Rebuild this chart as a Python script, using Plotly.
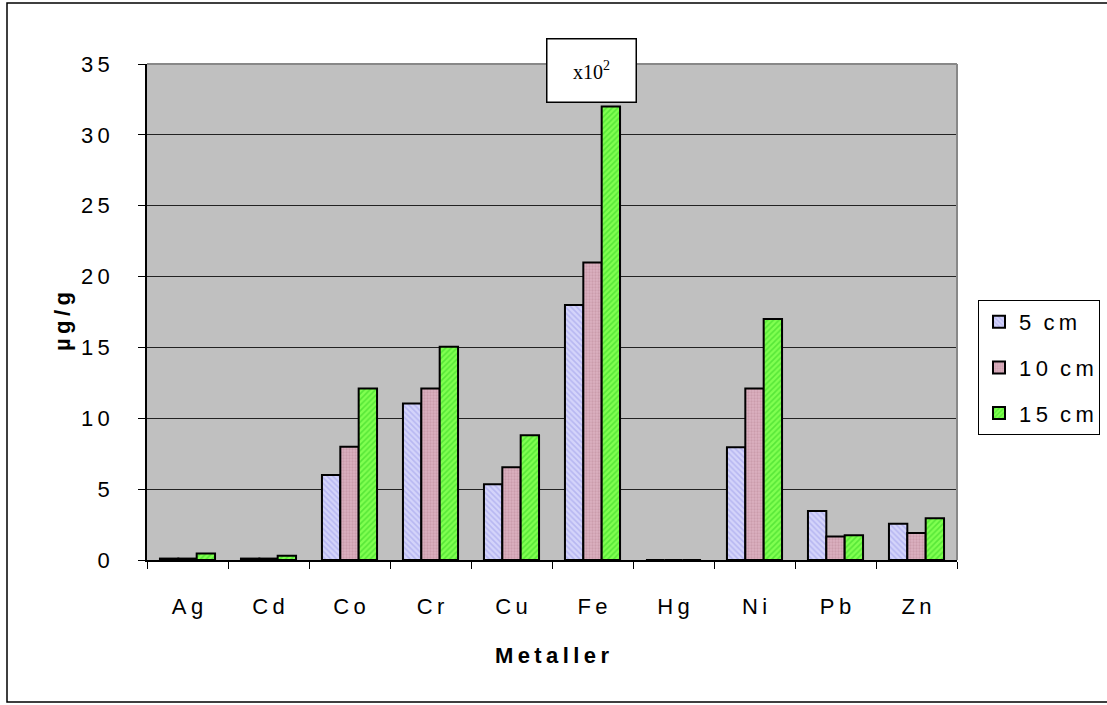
import plotly.graph_objects as go

metals = ["Ag", "Cd", "Co", "Cr", "Cu", "Fe", "Hg", "Ni", "Pb", "Zn"]
depth_5cm = [0.1, 0.1, 6.0, 11.05, 5.35, 18.0, 0.0, 7.95, 3.45, 2.55]
depth_10cm = [0.1, 0.1, 8.0, 12.1, 6.55, 21.0, 0.0, 12.1, 1.65, 1.9]
depth_15cm = [0.45, 0.3, 12.1, 15.05, 8.8, 32.0, 0.0, 17.0, 1.75, 2.95]
series_names = ["5 cm", "10 cm", "15 cm"]
y_ticks = [0, 5, 10, 15, 20, 25, 30, 35]

# plot area in pixels
W, H = 1107, 705
L, R, T, B = 147, 957, 64, 560


def px_x(p):
    return (p - L) / (R - L)


def px_y(p):
    return (B - p) / (B - T)


def spaced(s):
    # widely tracked lettering
    return "\u2009".join(s)


styles = [
    dict(bg="#d4d4fa", fg="#9a9ae8", shape="\\", size=4, solidity=0.4),
    dict(bg="#dcb0c0", fg="#b88898", shape=".", size=3, solidity=0.45),
    dict(bg="#80ff50", fg="#30d020", shape="/", size=4, solidity=0.4),
]

fig = go.Figure()
for name, vals, st in zip(series_names, [depth_5cm, depth_10cm, depth_15cm], styles):
    num, unit = name.split(" ")
    fig.add_trace(go.Bar(
        x=metals, y=vals, name=spaced(num) + "  " + spaced(unit),
        legendgroup=name,
        marker=dict(
            color=st["bg"],
            line=dict(color="black", width=2),
            pattern=dict(shape=st["shape"], fgcolor=st["fg"], bgcolor=st["bg"],
                         size=st["size"], solidity=st["solidity"], fillmode="overlay"),
        ),
    ))

family = "Liberation Sans, Arial, sans-serif"
font = dict(family=family, size=22, color="black")

fig.update_layout(
    width=W, height=H,
    margin=dict(l=L, r=W - R, t=T, b=H - B, autoexpand=False),
    paper_bgcolor="white",
    plot_bgcolor="#c0c0c0",
    barmode="group",
    bargap=0.32,
    bargroupgap=0,
    font=font,
    showlegend=True,
    legend=dict(
        x=px_x(978), y=px_y(300), xanchor="left", yanchor="top",
        bgcolor="white", bordercolor="black", borderwidth=1,
        font=dict(family=family, size=22), tracegroupgap=14, itemsizing="constant",
    ),
    xaxis=dict(
        type="category", tickson="boundaries", ticks="outside", ticklen=7,
        tickcolor="black", showline=True, linecolor="black", linewidth=1.5,
        showgrid=False, tickfont=font, ticklabelstandoff=26,
        tickvals=metals, ticktext=[spaced(m) for m in metals],
    ),
    yaxis=dict(
        range=[0, 35], tickvals=y_ticks, ticktext=[spaced(str(v)) for v in y_ticks],
        ticks="outside", ticklen=7,
        tickcolor="black", showline=True, linecolor="black", linewidth=1.5,
        showgrid=True, gridcolor="#222222", gridwidth=1, zeroline=False,
        tickfont=font, ticklabelstandoff=24,
    ),
    shapes=[
        # outer chart frame
        dict(type="rect", xref="paper", yref="paper",
             x0=px_x(7), x1=px_x(1112), y0=px_y(702), y1=px_y(3),
             line=dict(color="black", width=1.5), fillcolor="rgba(0,0,0,0)", layer="below"),
        # top and right edges of the plot area
        dict(type="line", xref="paper", yref="paper", x0=0, x1=1, y0=1, y1=1,
             line=dict(color="#888888", width=2)),
        dict(type="line", xref="paper", yref="paper", x0=1, x1=1, y0=0, y1=1,
             line=dict(color="#888888", width=2)),
    ],
    annotations=[
        dict(text="<b>" + spaced("µg/g") + "</b>", xref="paper", yref="paper",
             x=px_x(62), y=px_y(322), xanchor="center", yanchor="middle",
             textangle=-90, showarrow=False,
             font=dict(family=family, size=22)),
        dict(text="<b>" + spaced("Metaller") + "</b>", xref="paper", yref="paper",
             x=0.5, y=px_y(655), xanchor="center", yanchor="middle",
             showarrow=False, font=dict(family=family, size=22)),
        dict(text="x10<sup>2</sup>", xref="paper", yref="paper", x=px_x(591), y=px_y(70),
             xanchor="center", yanchor="middle",
             showarrow=False, bgcolor="white", bordercolor="black", borderwidth=1.5,
             width=86, height=60, valign="middle",
             font=dict(family="Liberation Serif, Times New Roman, serif", size=20)),
    ],
)

fig.write_html("out.html")
